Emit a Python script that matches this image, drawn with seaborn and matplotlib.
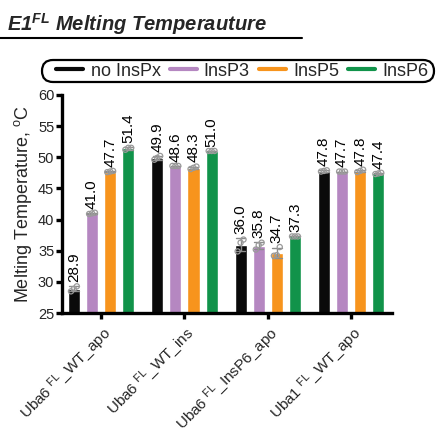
import numpy as np
import pandas as pd
import matplotlib
matplotlib.use("Agg")
import matplotlib.pyplot as plt
from matplotlib.lines import Line2D
from matplotlib.patches import FancyBboxPatch
from matplotlib.transforms import IdentityTransform, ScaledTranslation
import seaborn as sns

# ---------------- data ----------------
categories = [r"Uba6 $^{\mathrm{FL}}$_WT_apo", r"Uba6 $^{\mathrm{FL}}$_WT_ins",
              r"Uba6 $^{\mathrm{FL}}$_InsP6_apo", r"Uba1 $^{\mathrm{FL}}$_WT_apo"]
series = ["no InsPx", "InsP3", "InsP5", "InsP6"]
colors = ["#0a0a0a", "#b587c1", "#f7941d", "#11934a"]

# replicate melting temperatures (3 per bar), per series, per category
no_inspx = [[28.5, 28.9, 29.3], [49.6, 49.9, 50.2], [34.9, 36.3, 36.8], [47.7, 47.8, 47.9]]
insp3    = [[40.9, 41.0, 41.1], [48.6, 48.6, 48.6], [35.2, 35.9, 36.3], [47.7, 47.7, 47.7]]
insp5    = [[47.6, 47.7, 47.8], [48.1, 48.3, 48.5], [34.2, 34.3, 35.6], [47.6, 47.8, 48.0]]
insp6    = [[51.2, 51.5, 51.5], [51.0, 51.0, 51.0], [37.3, 37.3, 37.3], [47.3, 47.4, 47.5]]
yticks = [25, 30, 35, 40, 45, 50, 55, 60]

rows = []
for s, vals in zip(series, [no_inspx, insp3, insp5, insp6]):
    for c, reps in zip(categories, vals):
        for v in reps:
            rows.append({"cat": c, "series": s, "tm": v})
df = pd.DataFrame(rows)

# ---------------- style ----------------
sns.set_theme(style="ticks")
plt.rcParams["font.family"] = ["Liberation Sans", "DejaVu Sans"]
plt.rcParams["mathtext.fontset"] = "custom"
plt.rcParams["mathtext.rm"] = "Liberation Sans"
plt.rcParams["mathtext.it"] = "Liberation Sans:italic"
plt.rcParams["mathtext.bf"] = "Liberation Sans:italic:bold"

W, H = 436, 429
fig = plt.figure(figsize=(W / 100, H / 100), dpi=100)
ax = fig.add_axes([0.142, 0.270, 0.757, 0.509])

sns.barplot(data=df, x="cat", y="tm", hue="series", order=categories,
            hue_order=series, palette=colors, width=0.87, gap=0.33,
            errorbar="sd", capsize=0.45, err_kws={"color": "#8c8c8c", "linewidth": 1.0},
            saturation=1, legend=False, ax=ax)

# replicate points and value labels
offsets = [-0.035, 0.0, 0.035]
for cont, s in zip(ax.containers, series):
    for bar, c in zip(cont, categories):
        xc = bar.get_x() + bar.get_width() / 2
        reps = df[(df.series == s) & (df.cat == c)]["tm"].values
        ax.scatter(xc + np.array(offsets), reps, s=14, facecolors="none",
                   edgecolors="#9a9a9a", linewidths=0.9, zorder=5)
        m = reps.mean()
        sd = reps.std(ddof=1)
        top = max(m + sd, reps.max())
        ax.annotate(f"{m:.1f}", (xc, top), xytext=(0, 3), textcoords="offset points",
                    rotation=90, ha="center", va="bottom", fontsize=11, color="black")

ax.set_ylim(25, 60)
ax.set_xlim(-0.47, 3.49)
ax.set_yticks(yticks)
ax.set_yticklabels([str(t) for t in yticks], fontsize=10.5)
ax.set_xlabel("")
ax.set_ylabel(r"Melting Temperature, $^{\mathrm{o}}$C", fontsize=13, labelpad=3)
ax.set_xticks(range(len(categories)))
ax.set_xticklabels(categories, rotation=45, ha="right", rotation_mode="anchor", fontsize=11)
shift = ScaledTranslation(-0.045, 0.0, fig.dpi_scale_trans)
for lab in ax.get_xticklabels():
    lab.set_transform(lab.get_transform() + shift)
for sp in ["top", "right"]:
    ax.spines[sp].set_visible(False)
for sp in ["left", "bottom"]:
    ax.spines[sp].set_linewidth(2.4)
    ax.spines[sp].set_color("black")
ax.tick_params(axis="y", width=2.4, length=4.5, color="black", pad=1)
ax.tick_params(axis="x", width=2.4, length=4.5, color="black", pad=3)

# legend (frameless) inside a hand-drawn rounded capsule
handles = [Line2D([0], [0], color=col, lw=3) for col in colors]
leg = fig.legend(handles, series, loc="center", bbox_to_anchor=(0.556, 1 - 71 / H), ncol=4,
                 fontsize=13, handlelength=1.5, handletextpad=0.4, columnspacing=0.5,
                 frameon=False, borderpad=0.1)
capsule = FancyBboxPatch((42, H - 82), 392, 22, boxstyle="round,pad=0,rounding_size=11",
                         transform=IdentityTransform(), facecolor="none",
                         edgecolor="black", linewidth=1.6)
fig.add_artist(capsule)

# title with underline
fig.text(0.015, 1 - 31 / H, r"E1$^{\mathbf{FL}}$ Melting Temperauture", fontsize=14.5,
         fontweight="bold", fontstyle="italic", ha="left", va="baseline")
fig.add_artist(Line2D([0, 302 / W], [1 - 38 / H, 1 - 38 / H], color="black", lw=1.5,
                      transform=fig.transFigure))

fig.savefig("out.png", dpi=100)
